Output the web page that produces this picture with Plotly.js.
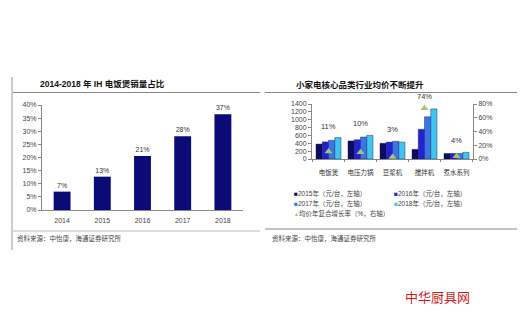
<!DOCTYPE html>
<html><head><meta charset="utf-8">
<script src="https://cdn.plot.ly/plotly-3.0.1.min.js"></script>
<style>html,body{margin:0;padding:0;background:#fff}#c{width:530px;height:320px}</style>
</head><body><div id="c"></div>
<script>
// Left chart data
const years = ['2014','2015','2016','2017','2018'];
const ihShare = [7, 12.7, 20.6, 28.1, 36.5];
const ihLabels = ['7%','13%','21%','28%','37%'];
// Right chart data
const categories = ['电饭煲','电压力锅','豆浆机','搅拌机','煮水系列'];
const price2015 = [380, 460, 400, 245, 140];
const price2016 = [435, 490, 430, 755, 140];
const price2017 = [475, 560, 450, 1075, 140];
const price2018 = [545, 600, 430, 1275, 170];
const cagr = [11, 10, 3, 74, 4];
const cagrLabels = ['11%','10%','3%','74%','4%'];
const seriesNames = ['2015年（元/台，左轴）','2016年（元/台，左轴）','2017年（元/台，左轴）','2018年（元/台，左轴）'];
const cagrName = '均价年复合增长率（%，右轴）';

const FONT = 'Liberation Sans, Arial, Noto Sans CJK SC, sans-serif';
const CJK = 'Noto Sans CJK SC, sans-serif';
const colors = ['#0d0d5e','#2222d4','#3a76e6','#3ec6f2'];
const W = 530, H = 320;
const px = x => x / W, py = y => (H - y) / H;

const traces = [];
traces.push({type:'bar', x: years, y: ihShare, xaxis:'x', yaxis:'y', width:0.42,
  marker:{color:'#0b0b78'}, text: ihLabels, textposition:'outside',
  textfont:{size:7, color:'#333', family:FONT}, cliponaxis:false, showlegend:false});
const prices = [price2015, price2016, price2017, price2018];
prices.forEach((p,i)=>traces.push({type:'bar', x: categories, y: p, xaxis:'x2', yaxis:'y2',
  name: seriesNames[i], marker:{color:colors[i], line:{color:'#0a0a40', width:0.4}}, showlegend:false}));
traces.push({type:'scatter', mode:'markers', x: categories, y: cagr, xaxis:'x2', yaxis:'y3',
  name: cagrName, marker:{symbol:'triangle-up', size:7, color:'#a9c46e'}, showlegend:false, cliponaxis:false});

const axFont = {size:7, color:'#444', family:FONT};
const annotations = [];
categories.forEach((c,i)=>{
  const m = Math.max(price2015[i],price2016[i],price2017[i],price2018[i], cagr[i]*1400/80);
  annotations.push({x:c, y:m, xref:'x2', yref:'y2', text:cagrLabels[i], showarrow:false,
    yanchor:'bottom', yshift:5, font:{size:7.5, color:'#333', family:FONT}});
});
annotations.push({x:px(38), y:py(84), xref:'paper', yref:'paper', xanchor:'left', yanchor:'middle', showarrow:false,
  text:'<b>2014-2018 年 IH 电饭煲销量占比</b>', font:{size:8.5, color:'#111', family:FONT}});
annotations.push({x:px(294), y:py(84), xref:'paper', yref:'paper', xanchor:'left', yanchor:'middle', showarrow:false,
  text:'<b>小家电核心品类行业均价不断提升</b>', font:{size:8.5, color:'#111', family:CJK}});
annotations.push({x:px(15), y:py(238), xref:'paper', yref:'paper', xanchor:'left', yanchor:'middle', showarrow:false,
  text:'资料来源：中怡康，海通证券研究所', font:{size:6.5, color:'#444', family:CJK}});
annotations.push({x:px(270), y:py(238), xref:'paper', yref:'paper', xanchor:'left', yanchor:'middle', showarrow:false,
  text:'资料来源：中怡康，海通证券研究所', font:{size:6.5, color:'#444', family:CJK}});
const legPos = [[292,193],[392,193],[292,203],[392,203]];
seriesNames.forEach((n,i)=>annotations.push({x:px(legPos[i][0]), y:py(legPos[i][1]), xref:'paper', yref:'paper',
  xanchor:'left', yanchor:'middle', showarrow:false,
  text:'<span style="color:'+colors[i]+'">■</span>'+n, font:{size:6.5, color:'#444', family:FONT}}));
annotations.push({x:px(292), y:py(213), xref:'paper', yref:'paper', xanchor:'left', yanchor:'middle', showarrow:false,
  text:'<span style="color:#a9c46e;font-size:5px">▲</span>'+cagrName, font:{size:6.5, color:'#444', family:FONT}});
annotations.push({x:px(437), y:py(296), xref:'paper', yref:'paper', xanchor:'center', yanchor:'middle', showarrow:false,
  text:'中华厨具网', font:{size:13, color:'#d41a20', family:CJK}});

const shapes = [
  {type:'line', xref:'paper', yref:'paper', x0:px(12), x1:px(12), y0:py(77), y1:py(250), line:{color:'#999', width:1}},
  {type:'line', xref:'paper', yref:'paper', x0:px(13), x1:px(260), y0:py(92.5), y1:py(92.5), line:{color:'#888', width:1.2}},
  {type:'line', xref:'paper', yref:'paper', x0:px(13), x1:px(260), y0:py(231), y1:py(231), line:{color:'#aaa', width:0.8}},
  {type:'line', xref:'paper', yref:'paper', x0:px(265), x1:px(517), y0:py(92.5), y1:py(92.5), line:{color:'#888', width:1.2}},
  {type:'line', xref:'paper', yref:'paper', x0:px(265), x1:px(517), y0:py(229), y1:py(229), line:{color:'#888', width:1.2}}
];
// category boundary tick marks on the right chart's x axis
for (let i = 0; i <= categories.length; i++) {
  shapes.push({type:'line', xref:'x2', yref:'paper', x0:i-0.5, x1:i-0.5, y0:py(159), y1:py(162),
    line:{color:'#888', width:1}});
}

const baseAx = {showgrid:false, zeroline:false, showline:true, linecolor:'#888', linewidth:1,
  ticks:'outside', ticklen:3, tickcolor:'#888', tickfont:axFont, fixedrange:true};
const hiddenTicks = {ticks:'outside', tickcolor:'rgba(0,0,0,0)'};

const layout = {
  width:W, height:H, margin:{l:0,r:0,t:0,b:0}, paper_bgcolor:'#fff', plot_bgcolor:'rgba(0,0,0,0)',
  showlegend:false, barmode:'group', bargap:0.22, bargroupgap:0,
  xaxis: Object.assign({}, baseAx, hiddenTicks, {domain:[px(42), px(243)], anchor:'y', ticklen:4,
    tickmode:'array', tickvals:years, ticktext:years, tickangle:0}),
  yaxis: Object.assign({}, baseAx, {domain:[py(210), py(105)], anchor:'x', range:[0,40],
    tickvals:[0,5,10,15,20,25,30,35,40], ticktext:['0%','5%','10%','15%','20%','25%','30%','35%','40%']}),
  xaxis2: Object.assign({}, baseAx, hiddenTicks, {domain:[px(312), px(473)], anchor:'y2', ticklen:7,
    tickmode:'array', tickvals:categories, ticktext:categories, tickangle:0,
    tickfont:{size:6.5, color:'#333', family:CJK}}),
  yaxis2: Object.assign({}, baseAx, {domain:[py(159), py(104)], anchor:'x2', range:[0,1400], dtick:200}),
  yaxis3: Object.assign({}, baseAx, {overlaying:'y2', side:'right', anchor:'x2', range:[0,80],
    tickvals:[0,20,40,60,80], ticktext:['0%','20%','40%','60%','80%']}),
  annotations, shapes
};
Plotly.newPlot('c', traces, layout, {staticPlot:true, displayModeBar:false});
</script></body></html>
